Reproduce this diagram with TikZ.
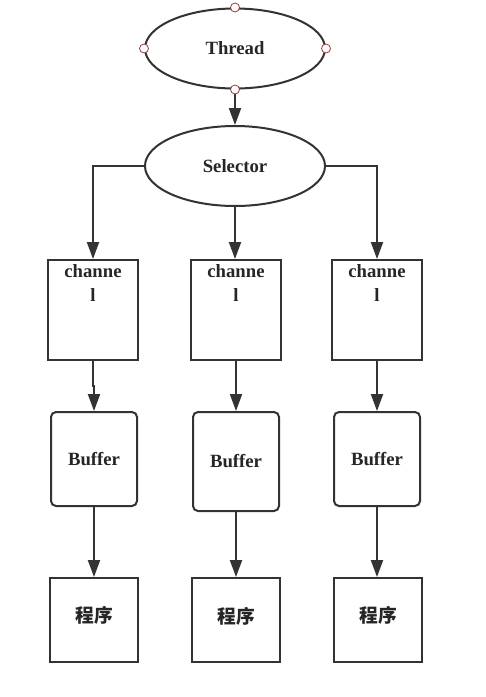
\documentclass[tikz,border=0pt]{standalone}
\usepackage{fontspec}
\setmainfont{Liberation Serif}
\newfontfamily\cjkfont{Noto Sans CJK SC}
\usetikzlibrary{shapes.geometric,arrows.meta}
\definecolor{ln}{HTML}{333333}
\definecolor{tx}{HTML}{262626}
\definecolor{hd}{HTML}{9E3B3B}
\tikzset{
  ell/.style={ellipse,draw=ln,line width=2pt,minimum width=180pt,minimum height=80pt,inner sep=0pt,font=\bfseries\fontsize{18.7}{21}\selectfont,text=tx},
  chbox/.style={rectangle,draw=ln,line width=2pt,minimum width=90pt,minimum height=100pt,inner sep=0pt},
  chtext/.style={align=center,font=\bfseries\fontsize{18.7}{24}\selectfont,text=tx,inner sep=0pt},
  bufbox/.style={rectangle,rounded corners=5pt,draw=ln,line width=2pt,minimum width=86pt,inner sep=0pt,font=\bfseries\fontsize{18.7}{21}\selectfont,text=tx},
  prbox/.style={rectangle,draw=ln,line width=2pt,minimum width=88pt,minimum height=84pt,inner sep=0pt},
  prtext/.style={inner sep=0pt,font=\cjkfont\bfseries\fontsize{18.7}{21}\selectfont,text=tx},
  handle/.style={circle,draw=hd,fill=white,line width=0.8pt,minimum size=9pt,inner sep=0pt},
  conn/.style={draw=ln,line width=2pt,-{Triangle[width=12pt,length=17pt]}}
}
\begin{document}
\begin{tikzpicture}[x=1pt,y=-1pt]
\useasboundingbox[fill=white] (0,0) rectangle (486,697);
\node[ell] (th) at (235,48.5) {Thread};
\node[ell] (se) at (235,166) {Selector};
\draw[conn] (th.south) -- (se.north);
\node[handle] (h1) at (th.north) {};
\node[handle] (h2) at (th.west) {};
\node[handle] (h3) at (th.east) {};
\node[handle] (h4) at (th.south) {};

\node[chbox] (c1) at (93,310) {};
\node[chbox] (c2) at (236,310) {};
\node[chbox] (c3) at (377,310) {};
\node[chtext,anchor=north] (t1) at (93,264) {channe\\l};
\node[chtext,anchor=north] (t2) at (236,264) {channe\\l};
\node[chtext,anchor=north] (t3) at (377,264) {channe\\l};

\node[bufbox,minimum height=94pt] (b1) at (94,459) {Buffer};
\node[bufbox,minimum height=99pt] (b2) at (236,461.5) {Buffer};
\node[bufbox,minimum height=94pt] (b3) at (377,459) {Buffer};

\node[prbox] (p1) at (94,620) {};
\node[prbox] (p2) at (236,620) {};
\node[prbox] (p3) at (378,620) {};
\node[prtext] (q1) at (94,615) {程序};
\node[prtext] (q2) at (236,616) {程序};
\node[prtext] (q3) at (378,615) {程序};

\draw[conn] (se.west) -| (c1.north);
\draw[conn] (se.south) -- (se.south |- c2.north);
\draw[conn] (se.east) -| (c3.north);

\draw[conn] (c1.south) -- ++(0,25) -| (b1.north);
\draw[conn] (c2.south) -- (b2.north);
\draw[conn] (c3.south) -- (b3.north);

\draw[conn] (b1.south) -- (p1.north);
\draw[conn] (b2.south) -- (p2.north);
\draw[conn] (b3.south) -- (b3.south |- p3.north);
\end{tikzpicture}
\end{document}
